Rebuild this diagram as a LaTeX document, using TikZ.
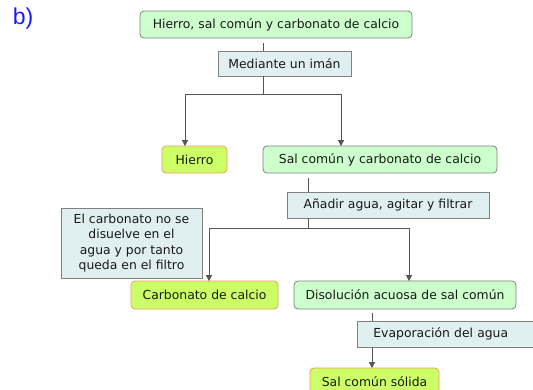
\documentclass[tikz,border=0pt]{standalone}
\usepackage{fontspec}
\setmainfont{DejaVu Sans}
\newfontfamily\labelfont{Liberation Sans}
\usetikzlibrary{arrows.meta}
\definecolor{greenfill}{HTML}{CCFFCC}
\definecolor{yellowfill}{HTML}{CCFF66}
\definecolor{orangeborder}{HTML}{F29966}
\definecolor{stepfill}{HTML}{E0EFEF}
\definecolor{grayborder}{HTML}{808080}
\definecolor{linecol}{HTML}{555555}
\definecolor{bluelabel}{HTML}{1A1AFF}
\tikzset{
  base/.style={font=\fontsize{12.4}{14}\selectfont, inner sep=0pt, align=center, line width=0.8pt, text=black!90},
  greenbox/.style={base, draw=grayborder, fill=greenfill, rounded corners=4pt},
  yellowbox/.style={base, draw=orangeborder, fill=yellowfill, rounded corners=4pt},
  stepbox/.style={base, draw=grayborder, fill=stepfill},
  conn/.style={draw=linecol, line width=0.8pt},
  arr/.style={conn, -{Triangle[width=6pt,length=6pt]}, shorten >=-0.5pt},
}
\begin{document}
\begin{tikzpicture}[x=1pt,y=-1pt]
\useasboundingbox (0,0) rectangle (533,389);
\node[font=\labelfont\fontsize{23}{25}\selectfont, text=bluelabel] (lab) at (23,19) {b)};

\node[greenbox, minimum width=272pt, minimum height=27pt] (n1) at (276,24.5) {Hierro, sal común y carbonato de calcio};
\node[stepbox, minimum width=133pt, minimum height=25pt] (m1) at (284.5,63.5) {Mediante un imán};
\node[yellowbox, minimum width=65pt, minimum height=27pt] (hi) at (194.5,159.5) {Hierro};
\node[greenbox, minimum width=234pt, minimum height=27pt] (sc) at (380,159.5) {Sal común y carbonato de calcio};
\node[stepbox, minimum width=202pt, minimum height=26pt] (an) at (388,205) {Añadir agua, agitar y filtrar};
\node[stepbox, minimum width=141pt, minimum height=70pt, font=\fontsize{12.4}{15.2}\selectfont] (ec) at (131.5,243) {El carbonato no se\\disuelve en el\\agua y por tanto\\queda en el filtro};
\node[yellowbox, minimum width=147pt, minimum height=28pt] (cc) at (204.5,295) {Carbonato de calcio};
\node[greenbox, minimum width=222pt, minimum height=28pt] (di) at (405,295) {Disolución acuosa de sal común};
\node[stepbox, minimum width=190pt, minimum height=26pt, anchor=west, text width=174pt, align=left, inner xsep=0pt] (ev) at (357,334) {\hspace*{8pt}Evaporación del agua};
\node[yellowbox, minimum width=129pt, minimum height=28pt] (ss) at (374.5,382) {Sal común sólida};

% junction coordinates
\coordinate (x1) at (263,0);
\coordinate (j1) at (263,94);
\coordinate (jl) at (185,94);
\coordinate (jr) at (341,94);
\coordinate (x2) at (308,0);
\coordinate (j2) at (308,228);
\coordinate (kl) at (209,228);
\coordinate (kr) at (409,228);
\coordinate (x3) at (372,0);

\draw[conn] ([yshift=-5pt]n1.south -| x1) -- (m1.north -| x1);
\draw[conn] (m1.south -| x1) -- (j1);
\draw[conn] (jl) -- (jr);
\draw[arr] (jl) -- (hi.north -| jl);
\draw[arr] (jr) -- (sc.north -| jr);

\draw[conn] ([yshift=-5pt]sc.south -| x2) -- (an.north -| x2);
\draw[conn] (an.south -| x2) -- (j2);
\draw[conn] (kl) -- (kr);
\draw[arr] (kl) -- (cc.north -| kl);
\draw[arr] (kr) -- (di.north -| kr);

\draw[conn] ([yshift=-4pt]di.south -| x3) -- (ev.north -| x3);
\draw[arr] (ev.south -| x3) -- (ss.north -| x3);
\end{tikzpicture}
\end{document}
